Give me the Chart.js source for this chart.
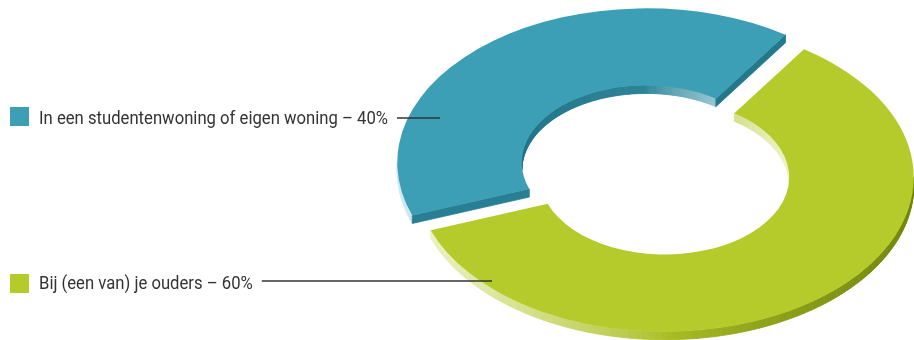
<!DOCTYPE html>
<html lang="nl">
<head>
<meta charset="utf-8">
<title>Woonsituatie</title>
<script src="https://cdn.jsdelivr.net/npm/chart.js@4.4.1/dist/chart.umd.min.js"></script>
<style>
  html, body { margin: 0; padding: 0; background: #fff; }
  canvas { display: block; }
</style>
</head>
<body>
<canvas id="myChart" width="914" height="340"></canvas>
<script>
  const labels = ['In een studentenwoning of eigen woning', 'Bij (een van) je ouders'];
  const shares = [40, 60];
  const colors = ['#3d9fb6', '#b4cb2b'];
  // side shading per slice: [facing right, facing down, facing left]
  const sideColors = [['#23768a', '#2c8498', '#d4ebf1'], ['#73860d', '#abbe26', '#eef4c8']];

  const tilt = 0.62;    // vertical squash of the ring
  const depth = 8;      // thickness of the ring in px
  const explode = 15;   // how far each slice is pulled out

  // legend rows on the left
  const squareTop = [107, 274];
  const baseline = [124, 289];
  const leaderY = [118, 281];
  const leaderEnd = [440, 492];

  function hex(c) {
    return [1, 3, 5].map(i => parseInt(c.slice(i, i + 2), 16));
  }
  function mix(a, b, t) {
    const x = hex(a), y = hex(b);
    return 'rgb(' + x.map((v, i) => Math.round(v + (y[i] - v) * t)).join(',') + ')';
  }

  const ring3d = {
    id: 'ring3d',
    beforeDatasetsDraw(chart) {
      const ctx = chart.ctx;
      const arcs = chart.getDatasetMeta(0).data;
      const cy = arcs[0].y;

      const slices = arcs.map((arc, i) => {
        const p = arc.getProps(['x', 'y', 'startAngle', 'endAngle', 'innerRadius', 'outerRadius']);
        const mid = (p.startAngle + p.endAngle) / 2;
        return Object.assign(p, {
          arc, i,
          ox: p.x + Math.cos(mid) * explode,
          oy: p.y + Math.sin(mid) * explode
        });
      });

      const pt = (s, r, a, z) => [s.ox + r * Math.cos(a), cy + (s.oy + r * Math.sin(a) - cy) * tilt + z];
      // nx: x part of the face normal, -1 facing left .. 1 facing right
      const shade = (i, nx) => {
        const c = sideColors[i];
        return nx >= 0 ? mix(c[1], c[0], Math.pow(nx, 0.8)) : mix(c[1], c[2], Math.pow(-nx, 0.8));
      };
      const quad = (pts, color) => {
        ctx.beginPath();
        ctx.moveTo(pts[0][0], pts[0][1]);
        for (let k = 1; k < pts.length; k++) ctx.lineTo(pts[k][0], pts[k][1]);
        ctx.closePath();
        ctx.fillStyle = color;
        ctx.strokeStyle = color;
        ctx.fill();
        ctx.stroke();
      };

      ctx.save();
      ctx.lineWidth = 0.8;
      // side walls
      slices.forEach(s => {
        const step = Math.PI / 360;
        for (let a = s.startAngle; a < s.endAngle; a += step) {
          const b = Math.min(a + step, s.endAngle);
          const m = (a + b) / 2;
          if (Math.sin(m) > 0) {
            quad([pt(s, s.outerRadius, a, 0), pt(s, s.outerRadius, b, 0),
                  pt(s, s.outerRadius, b, depth), pt(s, s.outerRadius, a, depth)], shade(s.i, Math.cos(m)));
          } else {
            quad([pt(s, s.innerRadius, a, 0), pt(s, s.innerRadius, b, 0),
                  pt(s, s.innerRadius, b, depth), pt(s, s.innerRadius, a, depth)], shade(s.i, -Math.cos(m)));
          }
        }
        // cut faces at both ends of the slice
        [[s.startAngle, s.startAngle - Math.PI / 2], [s.endAngle, s.endAngle + Math.PI / 2]].forEach(([a, n]) => {
          if (Math.sin(n) <= 0) return;
          quad([pt(s, s.innerRadius, a, 0), pt(s, s.outerRadius, a, 0),
                pt(s, s.outerRadius, a, depth), pt(s, s.innerRadius, a, depth)], shade(s.i, Math.cos(n)));
        });
      });
      ctx.restore();

      // top faces, drawn by the arc elements themselves
      slices.forEach(s => {
        ctx.save();
        ctx.translate(0, cy);
        ctx.scale(1, tilt);
        ctx.translate(0, -cy);
        ctx.translate(s.ox - s.x, s.oy - s.y);
        s.arc.draw(ctx);
        ctx.restore();
      });
      return false;
    },
    afterDraw(chart) {
      const ctx = chart.ctx;
      ctx.save();
      ctx.font = '18px Roboto, "DejaVu Sans Condensed", sans-serif';
      const texts = labels.map((l, i) => l + ' \u2013 ' + shares[i] + '%');
      const sx = Math.min(1, 349 / ctx.measureText(texts[0]).width);
      texts.forEach((t, i) => {
        ctx.fillStyle = colors[i];
        ctx.fillRect(10, squareTop[i], 19, 19);
        ctx.save();
        ctx.translate(39, baseline[i]);
        ctx.scale(sx, 1);
        ctx.fillStyle = '#333';
        ctx.textBaseline = 'alphabetic';
        ctx.fillText(t, 0, 0);
        ctx.restore();
        const end = 39 + ctx.measureText(t).width * sx;
        ctx.beginPath();
        ctx.moveTo(end + 9, leaderY[i]);
        ctx.lineTo(leaderEnd[i], leaderY[i]);
        ctx.strokeStyle = '#333';
        ctx.lineWidth = 1.5;
        ctx.stroke();
      });
      ctx.restore();
    }
  };

  const myChart = new Chart(document.getElementById('myChart'), {
    type: 'doughnut',
    data: {
      labels: labels,
      datasets: [{
        data: shares,
        backgroundColor: colors,
        borderWidth: 0
      }]
    },
    options: {
      responsive: false,
      animation: false,
      events: [],
      rotation: 250,
      cutout: '50%',
      radius: 249,
      layout: { padding: { left: 397 } },
      plugins: {
        legend: { display: false },
        tooltip: { enabled: false }
      }
    },
    plugins: [ring3d]
  });
</script>
</body>
</html>
